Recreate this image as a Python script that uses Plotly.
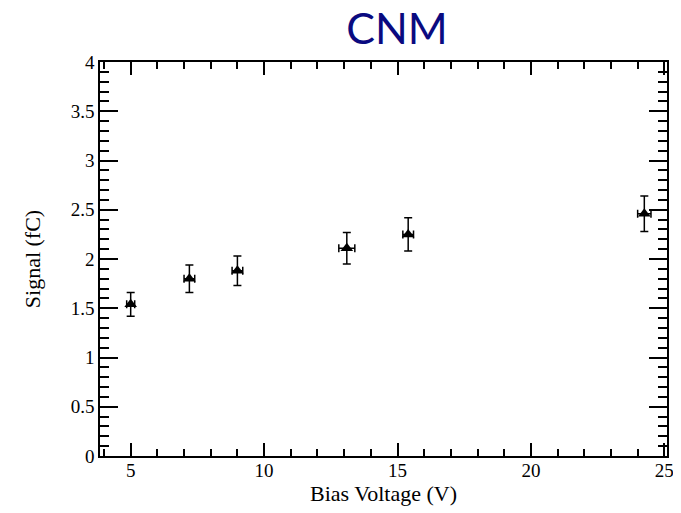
import plotly.graph_objects as go

# data
bias_voltage = [5.0, 7.2, 9.0, 13.1, 15.4, 24.25]
bias_err = [0.15, 0.2, 0.2, 0.3, 0.2, 0.25]
signal = [1.54, 1.80, 1.88, 2.11, 2.25, 2.46]
signal_err = [0.12, 0.14, 0.15, 0.16, 0.17, 0.18]

serif = "Times New Roman, Liberation Serif, serif"

fig = go.Figure()

fig.add_trace(go.Scatter(x=bias_voltage,
                         y=signal,
                         mode='markers',
                         marker=dict(symbol='triangle-up', size=11, color='black'),
                         error_y=dict(type='data', array=signal_err, color='black',
                                      thickness=1.5, width=4),
                         error_x=dict(type='data', array=bias_err, color='black',
                                      thickness=1.5, width=4),
                         showlegend=False))

# page body has an 8px margin, so the figure is a bit smaller than the window
fig.update_layout(width=673, height=505,
                  paper_bgcolor='white',
                  plot_bgcolor='white',
                  margin=dict(l=92, r=14, t=54, b=57),
                  title=dict(text='CNM', x=0.578, xanchor='center', y=0.958, yanchor='middle',
                             font=dict(family='Lato', size=43, color='#0a0a80')))

axis_style = dict(showgrid=False, zeroline=False, automargin=False,
                  showline=True, linecolor='black', linewidth=1.5,
                  mirror='allticks', ticks='inside', tickcolor='black', tickwidth=1.5,
                  tickfont=dict(family=serif, size=19, color='black'))

fig.update_xaxes(**axis_style, range=[3.85, 25.1], dtick=5, tick0=0, ticklen=13,
                 ticklabelstandoff=-4,
                 minor=dict(dtick=1, ticks='inside', ticklen=7, tickcolor='black', tickwidth=1.5),
                 title=dict(text='Bias Voltage (V)', font=dict(family=serif, size=22, color='black'),
                            standoff=6))
fig.update_yaxes(**axis_style, range=[0, 4], dtick=0.5, ticklen=18,
                 minor=dict(dtick=0.1, ticks='inside', ticklen=9, tickcolor='black', tickwidth=1.5),
                 title=dict(text='Signal (fC)', font=dict(family=serif, size=22, color='black'),
                            standoff=24))

fig.write_html("out.html")
